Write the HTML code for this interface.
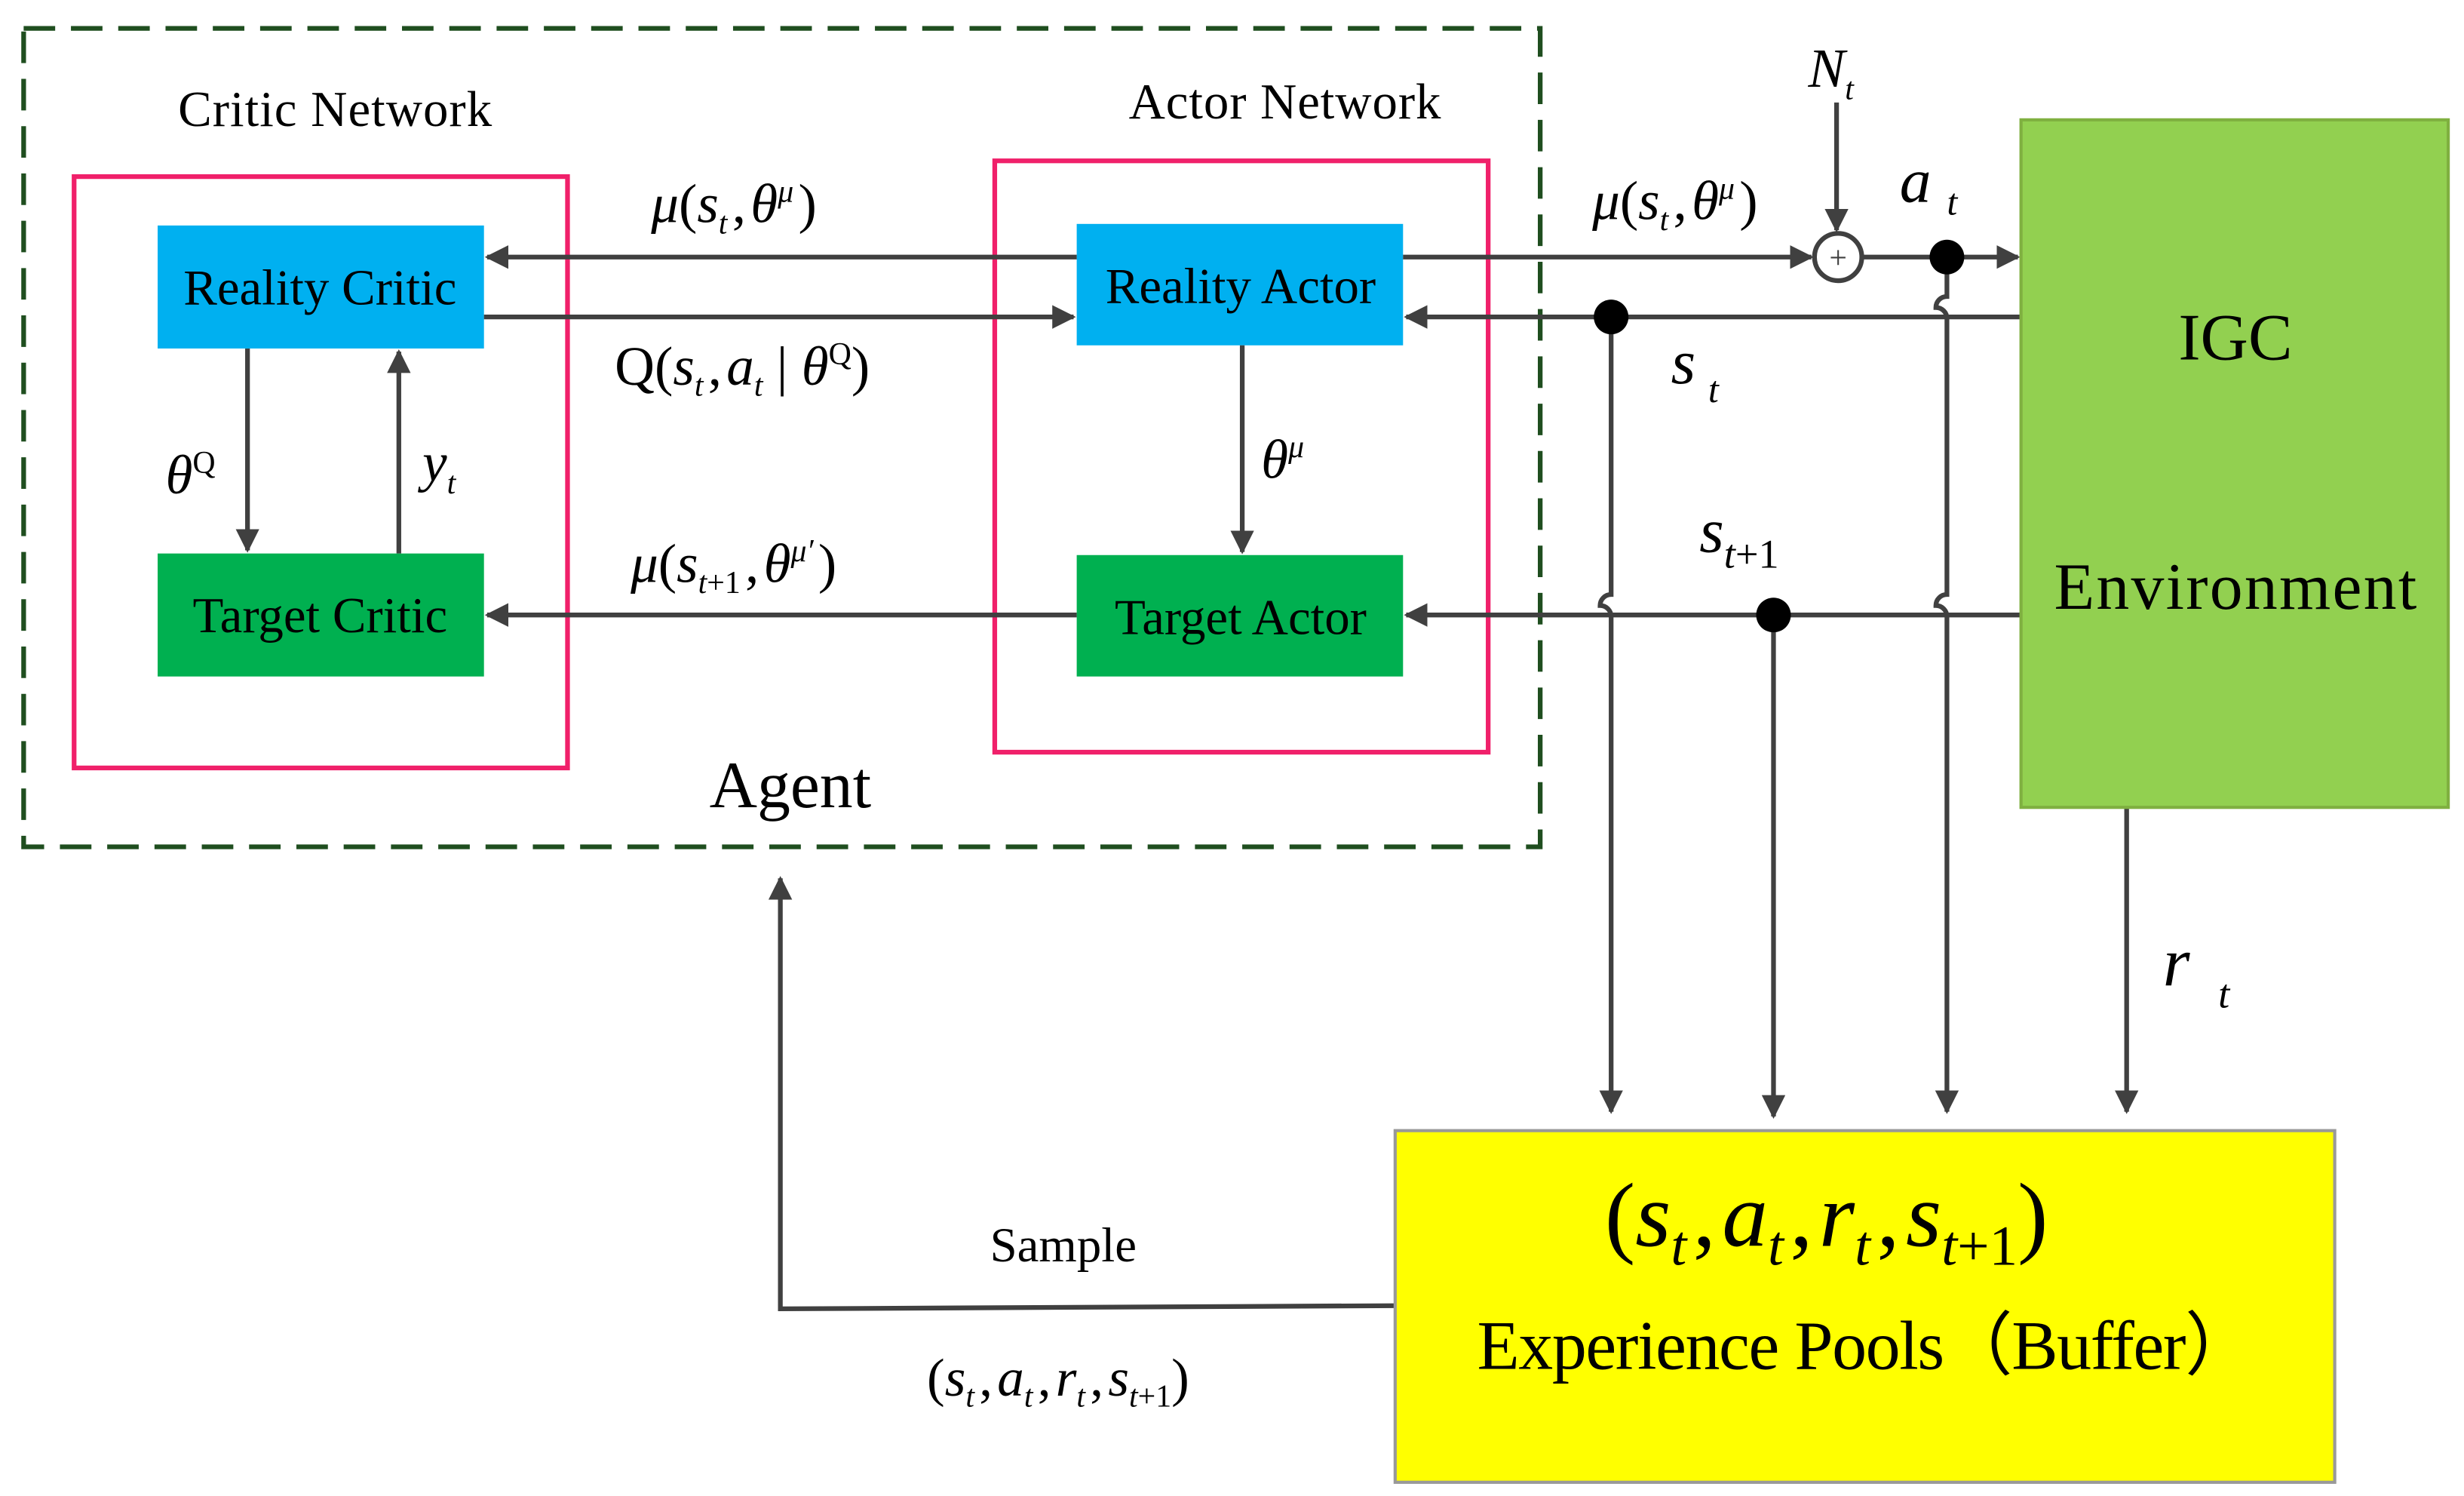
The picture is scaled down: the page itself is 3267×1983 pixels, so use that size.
<!DOCTYPE html>
<html><head><meta charset="utf-8"><style>html,body{margin:0;padding:0;background:#fff}svg{display:block}</style></head><body>
<svg width="3267" height="1983" viewBox="0 0 1563 948.7" preserveAspectRatio="none" xmlns="http://www.w3.org/2000/svg" font-family="Liberation Serif, serif">
<defs><marker id="a" viewBox="0 0 10 10" refX="9" refY="5" markerWidth="5" markerHeight="5" orient="auto"><path d="M0,0L10,5L0,10z" fill="#404040"/></marker></defs>
<rect width="1563" height="949" fill="#fff"/>
<rect x="15" y="18" width="962" height="519" fill="none" stroke="#1f4e1f" stroke-width="3" stroke-dasharray="20,10"/>
<text x="113" y="80" font-size="32" textLength="199">Critic Network</text>
<text x="716" y="75" font-size="32" textLength="198">Actor Network</text>
<rect x="47" y="112" width="313" height="375" fill="none" stroke="#f0206a" stroke-width="3"/>
<rect x="631" y="102" width="313" height="375" fill="none" stroke="#f0206a" stroke-width="3"/>
<g font-size="32" text-anchor="middle">
<rect x="100" y="143" width="207" height="78" fill="#00b0f0"/><text x="203" y="193">Reality Critic</text>
<rect x="100" y="351" width="207" height="78" fill="#00b050"/><text x="203" y="401">Target Critic</text>
<rect x="683" y="142" width="207" height="77" fill="#00b0f0"/><text x="787" y="192">Reality Actor</text>
<rect x="683" y="352" width="207" height="77" fill="#00b050"/><text x="787" y="402">Target Actor</text>
</g>
<g stroke="#404040" stroke-width="3" fill="none">
<line x1="683" y1="163" x2="309" y2="163" marker-end="url(#a)"/>
<line x1="307" y1="201" x2="681" y2="201" marker-end="url(#a)"/>
<line x1="157" y1="221" x2="157" y2="349" marker-end="url(#a)"/>
<line x1="253" y1="351" x2="253" y2="223" marker-end="url(#a)"/>
<line x1="788" y1="219" x2="788" y2="350" marker-end="url(#a)"/>
<line x1="683" y1="390" x2="309" y2="390" marker-end="url(#a)"/>
<line x1="890" y1="163" x2="1149" y2="163" marker-end="url(#a)"/>
<circle cx="1166" cy="163" r="15"/>
<line x1="1181" y1="163" x2="1280" y2="163" marker-end="url(#a)"/>
<line x1="1165" y1="65" x2="1165" y2="146" marker-end="url(#a)"/>
<line x1="1282" y1="201" x2="892" y2="201" marker-end="url(#a)"/>
<line x1="1282" y1="390" x2="892" y2="390" marker-end="url(#a)"/>
<path d="M1022,201V377a7,7 0 0 0 -7,7a7,7 0 0 1 7,7V705" marker-end="url(#a)"/>
<line x1="1125" y1="390" x2="1125" y2="708" marker-end="url(#a)"/>
<path d="M1235,163V188a7,7 0 0 0 -7,7a7,7 0 0 1 7,7V377a7,7 0 0 0 -7,7a7,7 0 0 1 7,7V705" marker-end="url(#a)"/>
<line x1="1349" y1="512" x2="1349" y2="705" marker-end="url(#a)"/>
<path d="M885,828L495,830V557" marker-end="url(#a)"/>
</g>
<text x="1166" y="170" font-size="20" text-anchor="middle" fill="#404040">+</text>
<circle cx="1235" cy="163" r="11" fill="#000"/>
<circle cx="1022" cy="201" r="11" fill="#000"/>
<circle cx="1125" cy="390" r="11" fill="#000"/>
<rect x="1282" y="76" width="271" height="436" fill="#92d050" stroke="#7fb040" stroke-width="2"/>
<text x="1418" y="228" font-size="42" text-anchor="middle">IGC</text>
<text x="1418" y="386" font-size="42" text-anchor="middle" textLength="230">Environment</text>
<rect x="885" y="717" width="596" height="223" fill="#ffff00" stroke="#999" stroke-width="2"/>
<text x="1018" y="790" font-size="58">(<tspan font-style="italic">s</tspan><tspan font-style="italic" font-size="36" dy="12">t</tspan><tspan dy="-12" dx="4">,</tspan><tspan font-style="italic" dx="4">a</tspan><tspan font-style="italic" font-size="36" dy="12">t</tspan><tspan dy="-12" dx="4">,</tspan><tspan font-style="italic" dx="4">r</tspan><tspan font-style="italic" font-size="36" dy="12">t</tspan><tspan dy="-12" dx="4">,</tspan><tspan font-style="italic" dx="4">s</tspan><tspan font-style="italic" font-size="36" dy="12">t</tspan><tspan font-size="36">+1</tspan><tspan dy="-12">)</tspan></text>
<text x="937" y="868" font-size="44" textLength="493">Experience Pools（Buffer）</text>
<text x="628" y="800" font-size="31">Sample</text>
<text x="588" y="885" font-size="34">(<tspan font-style="italic">s</tspan><tspan font-style="italic" font-size="20" dy="7">t</tspan><tspan dy="-7" dx="3">,</tspan><tspan font-style="italic" dx="3">a</tspan><tspan font-style="italic" font-size="20" dy="7">t</tspan><tspan dy="-7" dx="3">,</tspan><tspan font-style="italic" dx="3">r</tspan><tspan font-style="italic" font-size="20" dy="7">t</tspan><tspan dy="-7" dx="3">,</tspan><tspan font-style="italic" dx="3">s</tspan><tspan font-style="italic" font-size="20" dy="7">t</tspan><tspan font-size="20">+1</tspan><tspan dy="-7">)</tspan></text>
<text x="450" y="512" font-size="42">Agent</text>
<g font-size="35">
<text x="413" y="141"><tspan font-style="italic">μ</tspan>(<tspan font-style="italic">s</tspan><tspan font-style="italic" font-size="20" dy="7">t</tspan><tspan dy="-7" dx="3">,</tspan><tspan font-style="italic" dx="3">θ</tspan><tspan font-style="italic" font-size="20" dy="-13">μ</tspan><tspan dy="13" dx="3">)</tspan></text>
<text x="1010" y="139"><tspan font-style="italic">μ</tspan>(<tspan font-style="italic">s</tspan><tspan font-style="italic" font-size="20" dy="7">t</tspan><tspan dy="-7" dx="3">,</tspan><tspan font-style="italic" dx="3">θ</tspan><tspan font-style="italic" font-size="20" dy="-13">μ</tspan><tspan dy="13" dx="3">)</tspan></text>
<text x="390" y="244">Q(<tspan font-style="italic">s</tspan><tspan font-style="italic" font-size="20" dy="7">t</tspan><tspan dy="-7" dx="3">,</tspan><tspan font-style="italic" dx="3">a</tspan><tspan font-style="italic" font-size="20" dy="7">t</tspan><tspan dy="-7"> | </tspan><tspan font-style="italic">θ</tspan><tspan font-size="20" dy="-13">Q</tspan><tspan dy="13">)</tspan></text>
<text x="400" y="369"><tspan font-style="italic">μ</tspan>(<tspan font-style="italic">s</tspan><tspan font-size="20" dy="7"><tspan font-style="italic">t</tspan>+1</tspan><tspan dy="-7" dx="3">,</tspan><tspan font-style="italic" dx="3">θ</tspan><tspan font-style="italic" font-size="20" dy="-13">μ′</tspan><tspan dy="13" dx="3">)</tspan></text>
<text x="105" y="313"><tspan font-style="italic">θ</tspan><tspan font-size="20" dy="-13">Q</tspan></text>
<text x="268" y="305"><tspan font-style="italic">y</tspan><tspan font-style="italic" font-size="20" dy="8">t</tspan></text>
<text x="800" y="303"><tspan font-style="italic">θ</tspan><tspan font-style="italic" font-size="20" dy="-13">μ</tspan></text>
<text x="1147" y="55"><tspan font-style="italic">N</tspan><tspan font-style="italic" font-size="20" dy="8">t</tspan></text>
</g>
<text x="1205" y="128" font-size="40" font-style="italic">a<tspan font-size="24" dx="10" dy="8">t</tspan></text>
<text x="1060" y="243" font-size="40" font-style="italic">s<tspan font-size="24" dx="8" dy="12">t</tspan></text>
<text x="1078" y="350" font-size="40" font-style="italic">s<tspan font-size="26" dy="10">t</tspan><tspan font-style="normal" font-size="26">+1</tspan></text>
<text x="1372" y="625" font-size="44" font-style="italic">r<tspan font-size="26" dx="18" dy="14">t</tspan></text>
</svg>
</body></html>
